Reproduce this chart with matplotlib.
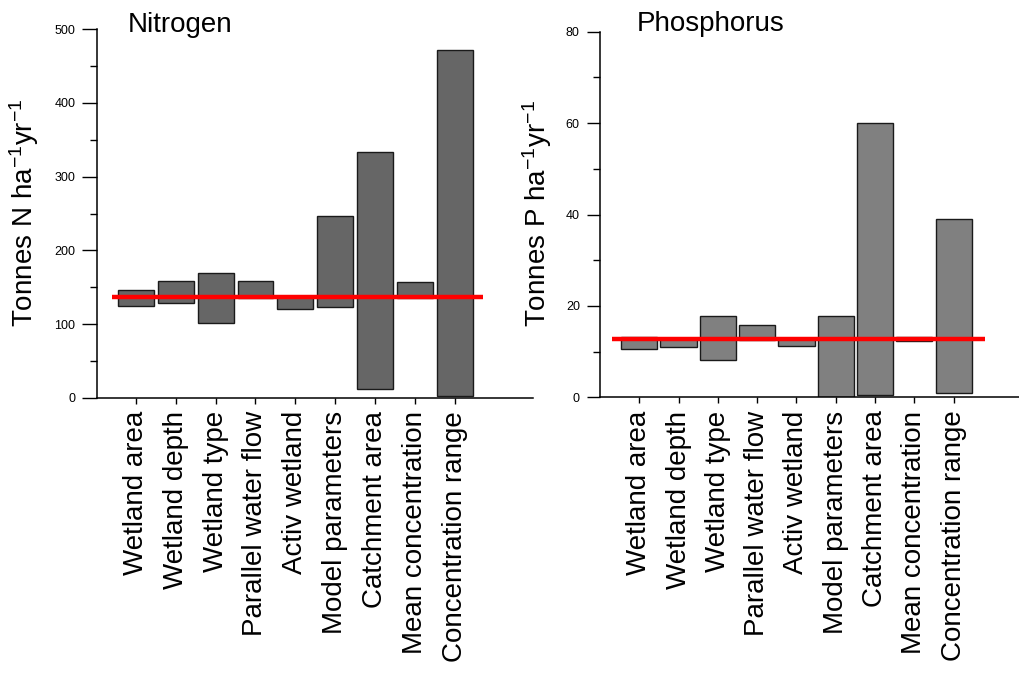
import matplotlib
matplotlib.use('Agg')
import matplotlib.pyplot as plt
import numpy as np

plt.rcParams['font.family'] = ['Liberation Sans', 'DejaVu Sans']
plt.rcParams['mathtext.default'] = 'regular'

categories = ['Wetland area', 'Wetland depth', 'Wetland type', 'Parallel water flow',
              'Activ wetland', 'Model parameters', 'Catchment area',
              'Mean concentration', 'Concentration range']

# nitrogen ranges (low, high), Tonnes N ha-1 yr-1
n_low = [125, 129, 102, 136, 121, 123, 12, 136, 3]
n_high = [147, 158, 169, 158, 138, 246, 334, 157, 472]
n_mean = 137

# phosphorus ranges (low, high), Tonnes P ha-1 yr-1
p_low = [10.5, 11.0, 8.1, 12.5, 11.2, 0.0, 0.5, 12.4, 1.0]
p_high = [13.3, 12.9, 17.9, 15.8, 12.8, 17.9, 60.0, 13.2, 39.1]
p_mean = 12.7

fig = plt.figure(figsize=(10.2, 6.78), dpi=100)
ax1 = fig.add_axes([0.0951, 0.4130, 0.4275, 0.5442])
ax2 = fig.add_axes([0.5882, 0.4140, 0.4118, 0.5392])

x = np.arange(1, len(categories) + 1)


def draw(ax, low, high, mean, color, width, ylim, major, minor, xlim, line_span, major_len):
    low = np.array(low)
    high = np.array(high)
    ax.bar(x, high - low, bottom=low, width=width, color=color,
           edgecolor='#1a1a1a', linewidth=1.0, zorder=2)
    ax.hlines(mean, line_span[0], line_span[1], color='#ff0000', linewidth=3.2, zorder=3)
    ax.set_xlim(*xlim)
    ax.set_ylim(*ylim)
    ax.set_yticks(np.arange(ylim[0], ylim[1] + 0.1, major))
    ax.set_yticks(np.arange(ylim[0] + minor, ylim[1], major), minor=True)
    ax.set_xticks(x)
    ax.set_xticklabels(categories, rotation=90, fontsize=20)
    for s in ['top', 'right']:
        ax.spines[s].set_visible(False)
    for s in ['left', 'bottom']:
        ax.spines[s].set_linewidth(1.1)
    ax.tick_params(axis='y', which='major', length=major_len, width=1.0, labelsize=9, pad=5)
    ax.tick_params(axis='y', which='minor', length=5, width=1.0)
    ax.tick_params(axis='x', which='major', length=4.5, width=1.0, pad=5)


draw(ax1, n_low, n_high, n_mean, '#666666', 0.9, (0, 500), 100, 50,
     (0.02, 10.97), (0.40, 9.72), 10.5)
draw(ax2, p_low, p_high, p_mean, '#808080', 0.92, (0, 80), 20, 10,
     (0.0, 10.69), (0.30, 9.81), 9.5)

fig.text(24 / 1020, 1 - 213 / 678, 'Tonnes N ha$^{-1}$yr$^{-1}$', rotation=90,
         ha='center', va='center', fontsize=20)
fig.text(537 / 1020, 1 - 213 / 678, 'Tonnes P ha$^{-1}$yr$^{-1}$', rotation=90,
         ha='center', va='center', fontsize=20)

fig.text(128 / 1020, 1 - 32 / 678, 'Nitrogen', fontsize=20, va='baseline')
fig.text(637 / 1020, 1 - 31 / 678, 'Phosphorus', fontsize=20, va='baseline')

fig.savefig('out.png', dpi=100)
